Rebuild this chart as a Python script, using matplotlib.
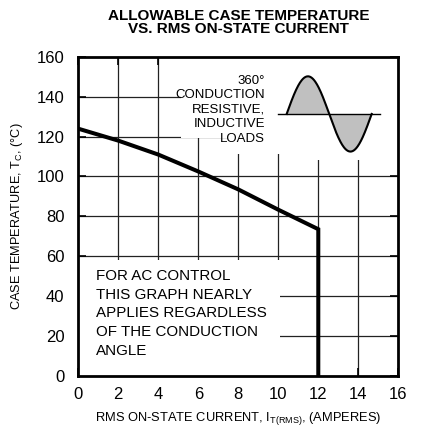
import numpy as np
import matplotlib
matplotlib.use('Agg')
import matplotlib.pyplot as plt
from matplotlib.patches import Rectangle

plt.rcParams['font.family'] = ['Liberation Sans', 'DejaVu Sans']
plt.rcParams['mathtext.fontset'] = 'custom'
plt.rcParams['mathtext.rm'] = 'Liberation Sans'
plt.rcParams['mathtext.it'] = 'Liberation Sans'

# derating curve
current = [0, 2, 4, 6, 8, 10, 12, 12]
case_temp = [124, 118, 111, 102.5, 93.5, 83.3, 73.5, 0]

x_ticks = [0, 2, 4, 6, 8, 10, 12, 14, 16]
y_ticks = [0, 20, 40, 60, 80, 100, 120, 140, 160]

# sine wave icon (360 deg conduction)
sine_start = 10.42
sine_end = 14.67
sine_base = 131.4
sine_amp = 18.9
sine_axis = [10.0, 15.08]

fig = plt.figure(figsize=(4.23, 4.30), dpi=100)
ax = fig.add_axes([0.185, 0.1267, 0.7566, 0.7407])

# grid drawn by hand so the text blocks can cover it but not the ticks
ax.vlines(x_ticks[1:-1], 0, 160, color='#222222', lw=0.9, zorder=1)
ax.hlines(y_ticks[1:-1], 0, 16, color='#222222', lw=0.9, zorder=1)

# white areas behind the labels
masks = [(5.15, 119.3, 10.85, 40.7), (7.5, 111.5, 8.5, 48.5),
         (11.0, 108.3, 5.0, 51.7), (0, 0, 10.1, 58.0)]
for mx, my, mw, mh in masks:
    ax.add_patch(Rectangle((mx, my), mw, mh, facecolor='white',
                           edgecolor='none', zorder=2))

ax.plot(current, case_temp, color='black', lw=2.9, zorder=3,
        solid_joinstyle='miter')

# sine icon
t = np.linspace(sine_start, sine_end, 200)
wave = sine_base + sine_amp * np.sin(2 * np.pi * (t - sine_start) / (sine_end - sine_start))
ax.fill_between(t, sine_base, wave, color='#c0c0c0', zorder=3, lw=0)
ax.plot(t, wave, color='black', lw=1.5, zorder=4)
ax.plot(sine_axis, [sine_base, sine_base], color='black', lw=1.0, zorder=4)

ax.text(9.35, 151.0, '360°\nCONDUCTION\nRESISTIVE,\nINDUCTIVE\nLOADS',
        ha='right', va='top', fontsize=9.5, linespacing=1.27, zorder=3)
ax.text(0.87, 53.5, 'FOR AC CONTROL\nTHIS GRAPH NEARLY\nAPPLIES REGARDLESS\nOF THE CONDUCTION\nANGLE',
        ha='left', va='top', fontsize=10.9, linespacing=1.42, zorder=3)

ax.set_xlim(0, 16)
ax.set_ylim(0, 160)
ax.set_xticks(x_ticks)
ax.set_yticks(y_ticks)
ax.tick_params(axis='x', direction='in', length=6, width=1.2, top=True,
               labelsize=12, pad=8)
ax.tick_params(axis='y', direction='in', length=6, width=1.2, right=True,
               labelsize=12, pad=10)
for s in ax.spines.values():
    s.set_linewidth(2.0)
    s.set_zorder(5)

ax.set_xlabel(r'RMS ON-STATE CURRENT, I$_{\mathrm{T(RMS)}}$, (AMPERES)',
              fontsize=9.3, labelpad=6)
ax.set_ylabel(r'CASE TEMPERATURE, T$_{\mathrm{C}}$, (°C)', fontsize=9.2, labelpad=8)
ax.set_title('ALLOWABLE CASE TEMPERATURE\nVS. RMS ON-STATE CURRENT',
             fontweight='bold', fontsize=11, linespacing=0.95, pad=17)

fig.savefig('out.png', dpi=100)
